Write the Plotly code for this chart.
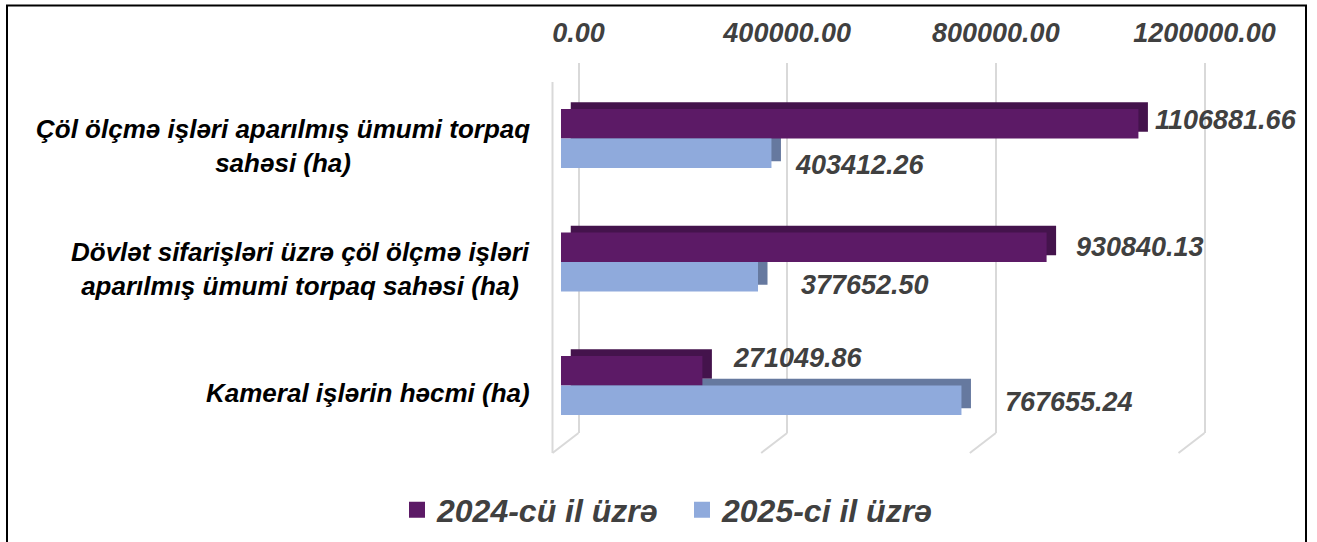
import plotly.graph_objects as go

# ---------------- data ----------------
categories = [
    "Çöl ölçmə işləri aparılmış ümumi torpaq<br>sahəsi (ha)",
    "Dövlət sifarişləri üzrə çöl ölçmə işləri<br>aparılmış ümumi torpaq sahəsi (ha)",
    "Kameral işlərin həcmi (ha)",
]
series_names = ["2024-cü il üzrə", "2025-ci il üzrə"]
values_2024 = [1106881.66, 930840.13, 271049.86]
values_2025 = [403412.26, 377652.50, 767655.24]
tick_values = [0, 400000, 800000, 1200000]
tick_labels = [f"{v:.2f}" for v in tick_values]

# ---------------- style ----------------
W, H = 1317, 542
FONT = "Liberation Sans, Arial, sans-serif"
front_colors = ["#5C1A66", "#8FAADC"]
depth_colors = ["#44134C", "#66799F"]
GRID = "#D9D9D9"
TXT = "#404040"

def fx(p):
    return p / W

def fy(p):
    return 1 - p / H

# pixel geometry
bar_x0, bar_x1 = 561, 1187          # front plane 0 .. 1.2M
grid_x0, grid_x1 = 578.5, 1204.5    # back wall 0 .. 1.2M
pad_val = 60000                     # grid axis range padding (value units)
pad_px = pad_val * (grid_x1 - grid_x0) / 1200000
cat_top, cat_bot = 76.75, 447.25    # category band extent
dx, dy = 9.5, 6.7                   # 3D depth offset
wall_top, wall_bot, floor_y = 63, 433, 453
front_dx = -26

series_vals = [values_2024, values_2025]
# label nudges (pixels): [series][category]
label_dx = [[5, 18, 19], [12, 31, 32]]
label_dy = [[18.5, 15, 27.5], [-26.5, -23, -16.5]]

fig = go.Figure()

# grid subplot (x / y) - legend proxies
for name, col in zip(series_names, front_colors):
    fig.add_trace(go.Scatter(
        x=[None], y=[None], mode="markers", name=name,
        marker=dict(symbol="square", size=18, color=col),
        xaxis="x", yaxis="y", showlegend=True,
    ))

# depth (extrusion) bars
for name, vals, col in zip(series_names, series_vals, depth_colors):
    fig.add_trace(go.Bar(
        x=vals, y=categories, orientation="h", name=name,
        marker=dict(color=col, line=dict(width=0)),
        xaxis="x2", yaxis="y2", showlegend=False, hoverinfo="skip",
    ))

# front bars
for name, vals, col in zip(series_names, series_vals, front_colors):
    fig.add_trace(go.Bar(
        x=vals, y=categories, orientation="h", name=name,
        marker=dict(color=col, line=dict(width=0)),
        xaxis="x3", yaxis="y3", showlegend=False,
    ))

annotations = []
# category labels
for c in categories:
    annotations.append(dict(
        text=c, x=fx(532), xref="paper", xanchor="right",
        y=c, yref="y3", yanchor="middle", yshift=-7,
        align="center", showarrow=False,
        font=dict(family=FONT, size=26, color="black", weight="bold", style="italic"),
    ))
# data labels
for s, vals in enumerate(series_vals):
    for i, (c, v) in enumerate(zip(categories, vals)):
        annotations.append(dict(
            text=f"{v:.2f}", x=v, xref="x3", xanchor="left",
            xshift=dx + label_dx[s][i],
            y=c, yref="y3", yanchor="middle", yshift=label_dy[s][i],
            showarrow=False,
            font=dict(family=FONT, size=27, color=TXT, weight="bold", style="italic"),
        ))

shapes = []
# floor diagonals from back wall gridlines to the front
for t in tick_values:
    shapes.append(dict(
        type="line", xref="x", yref="paper",
        xsizemode="pixel", xanchor=t, x0=0, x1=front_dx,
        y0=fy(wall_bot), y1=fy(floor_y),
        line=dict(color=GRID, width=2), layer="below",
    ))
# left (front) wall edge
shapes.append(dict(
    type="line", xref="x", yref="paper",
    xsizemode="pixel", xanchor=0, x0=front_dx, x1=front_dx,
    y0=fy(floor_y), y1=fy(82),
    line=dict(color=GRID, width=2), layer="below",
))
# outer frame
shapes.append(dict(
    type="rect", xref="paper", yref="paper",
    x0=fx(7), x1=fx(1306), y0=-0.05, y1=fy(5.5),
    line=dict(color="black", width=2), fillcolor="rgba(0,0,0,0)",
))

fig.update_layout(
    width=W, height=H,
    margin=dict(l=0, r=0, t=0, b=0, autoexpand=False),
    paper_bgcolor="white", plot_bgcolor="rgba(0,0,0,0)",
    barmode="group", bargap=0.522, bargroupgap=0,
    showlegend=True,
    legend=dict(
        orientation="h", x=fx(397), xanchor="left", y=fy(510), yanchor="middle",
        font=dict(family=FONT, size=32, color=TXT, weight="bold", style="italic"),
        entrywidth=240, entrywidthmode="pixels",
        bgcolor="rgba(0,0,0,0)",
    ),
    xaxis=dict(
        domain=[fx(grid_x0 - pad_px), fx(grid_x1 + pad_px)],
        range=[-pad_val, 1200000 + pad_val],
        anchor="y", side="top",
        tickvals=tick_values, ticktext=tick_labels,
        showgrid=True, gridcolor=GRID, gridwidth=2,
        zeroline=False, showline=False, ticks="",
        ticklabelstandoff=15,
        tickfont=dict(family=FONT, size=27, color=TXT, weight="bold", style="italic"),
        fixedrange=True,
    ),
    yaxis=dict(
        domain=[fy(wall_bot), fy(wall_top)], range=[0, 1],
        anchor="x", visible=False, fixedrange=True,
    ),
    xaxis2=dict(
        domain=[fx(bar_x0 + dx), fx(bar_x1 + dx)], range=[0, 1200000],
        anchor="y2", visible=False, fixedrange=True,
    ),
    yaxis2=dict(
        domain=[fy(cat_bot - dy), fy(cat_top - dy)], range=[2.5, -0.5],
        type="category", categoryorder="array", categoryarray=categories,
        anchor="x2", visible=False, fixedrange=True,
    ),
    xaxis3=dict(
        domain=[fx(bar_x0), fx(bar_x1)], range=[0, 1200000],
        anchor="y3", visible=False, fixedrange=True,
    ),
    yaxis3=dict(
        domain=[fy(cat_bot), fy(cat_top)], range=[2.5, -0.5],
        type="category", categoryorder="array", categoryarray=categories,
        anchor="x3", visible=False, fixedrange=True,
    ),
    annotations=annotations,
    shapes=shapes,
)

fig.write_html(
    "out.html",
    config={"displayModeBar": False},
    post_script="document.body.style.margin='0px';document.body.style.overflow='hidden';",
)
